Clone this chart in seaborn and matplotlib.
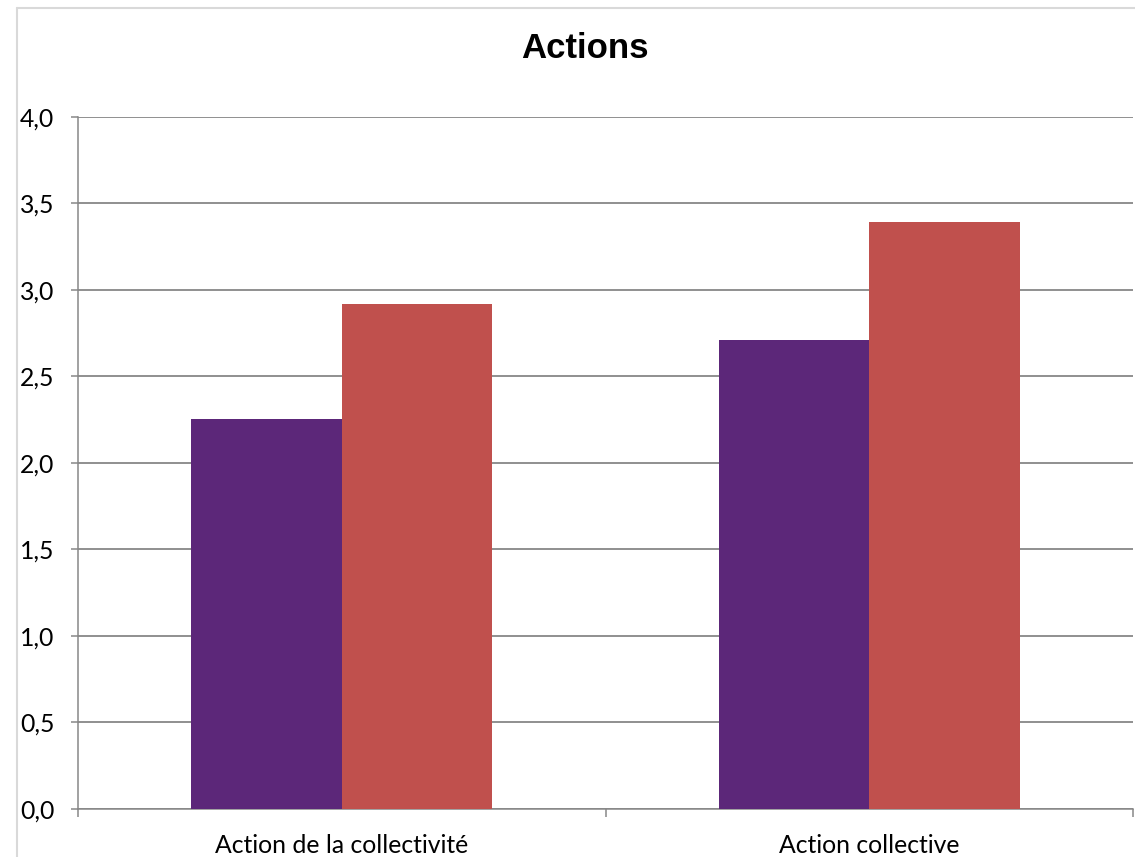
import matplotlib
matplotlib.use("Agg")
import matplotlib.pyplot as plt
import seaborn as sns
import pandas as pd
from matplotlib.lines import Line2D

categories = ["Action de la collectivité", "Action collective"]
series_names = ["Série 1", "Série 2"]
serie1_values = [2.25, 2.71]
serie2_values = [2.92, 3.39]
yticks = [0.0, 0.5, 1.0, 1.5, 2.0, 2.5, 3.0, 3.5, 4.0]
ytick_labels = ["0,0", "0,5", "1,0", "1,5", "2,0", "2,5", "3,0", "3,5", "4,0"]
title = "Actions"

df = pd.DataFrame({
    "categorie": categories * 2,
    "serie": [series_names[0]] * len(categories) + [series_names[1]] * len(categories),
    "valeur": serie1_values + serie2_values,
})

sns.set_theme(style="white")
plt.rcParams['font.family'] = ['Lato', 'DejaVu Sans']

fig = plt.figure(figsize=(11.35, 8.57), dpi=100)
ax = fig.add_axes([78 / 1135, 1 - 808.7 / 857, (1133 - 78) / 1135, (808.7 - 116.7) / 857])

sns.barplot(data=df, x="categorie", y="valeur", hue="serie", order=categories,
            hue_order=series_names, palette=["#5C2779", "#C0504D"], width=0.57,
            saturation=1, edgecolor="none", legend=False, ax=ax, zorder=3)

ax.set_xlim(-0.5, 1.5)
ax.set_ylim(0, 4.0)
ax.set_yticks(yticks)
ax.set_yticklabels(ytick_labels)
ax.grid(axis="y", color="#878787", linewidth=1.3, zorder=0)
ax.set_axisbelow(True)

# x ticks at category boundaries, labels at centres
ax.set_xticks([-0.5, 0.5, 1.5])
ax.set_xticklabels(["", "", ""])
ax.set_xticks([0, 1], minor=True)
ax.set_xticklabels(categories, minor=True)
ax.tick_params(axis="x", which="major", direction="out", length=6, width=1.1, color="#878787", bottom=True)
ax.tick_params(axis="x", which="minor", length=0, pad=18.5, labelsize=17.8, labelcolor="black")
ax.tick_params(axis="y", direction="out", length=5, width=1.1, color="#878787", left=True,
               pad=12, labelsize=17.8, labelcolor="black")

for s in ["top", "right"]:
    ax.spines[s].set_visible(False)
for s in ["left", "bottom"]:
    ax.spines[s].set_visible(True)
    ax.spines[s].set_color("#878787")
    ax.spines[s].set_linewidth(1.1)

ax.set_xlabel("")
ax.set_ylabel("")

fig.text(585 / 1135, 1 - 49 / 857, title, ha="center", va="center", color="black",
         fontsize=25, fontweight="bold", family=["Liberation Sans", "DejaVu Sans"])

# light chart-area border
fig.add_artist(Line2D([17 / 1135, 1.0], [1 - 8 / 857, 1 - 8 / 857], transform=fig.transFigure,
                      color="#D9D9D9", linewidth=1.5))
fig.add_artist(Line2D([17 / 1135, 17 / 1135], [0.0, 1 - 8 / 857], transform=fig.transFigure,
                      color="#D9D9D9", linewidth=1.5))

fig.savefig("out.png", dpi=100, facecolor="white")
